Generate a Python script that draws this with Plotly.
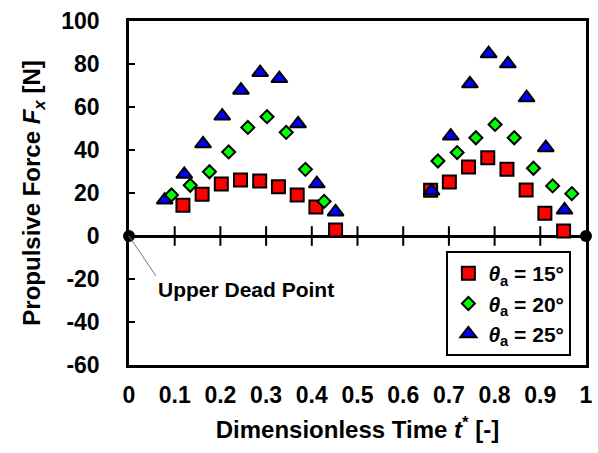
import plotly.graph_objects as go

# Dimensionless time t* and propulsive force F_x [N] for each blade angle
t_15 = [0.118, 0.160, 0.202, 0.244, 0.286, 0.327, 0.368, 0.409, 0.452,
        0.660, 0.701, 0.743, 0.785, 0.827, 0.869, 0.910, 0.951]
f_15 = [14.3, 19.4, 24.2, 26.0, 25.6, 22.9, 19.1, 13.5, 2.8,
        21.3, 25.1, 32.1, 36.4, 31.0, 21.4, 10.6, 2.3]

t_20 = [0.093, 0.134, 0.176, 0.218, 0.260, 0.302, 0.344, 0.386, 0.427,
        0.676, 0.718, 0.759, 0.801, 0.843, 0.885, 0.927, 0.969]
f_20 = [19.1, 23.6, 29.9, 39.1, 50.5, 55.5, 48.2, 31.0, 16.1,
        34.9, 38.8, 45.7, 51.9, 45.7, 31.5, 23.3, 19.7]

t_25 = [0.078, 0.121, 0.162, 0.204, 0.245, 0.287, 0.329, 0.370, 0.411, 0.452,
        0.662, 0.704, 0.746, 0.787, 0.829, 0.870, 0.912, 0.953]
f_25 = [16.7, 28.7, 42.9, 55.8, 67.8, 76.0, 73.2, 52.2, 24.3, 11.2,
        20.9, 46.5, 70.8, 84.8, 80.1, 64.3, 41.1, 12.1]

x_ticks = [0, 0.1, 0.2, 0.3, 0.4, 0.5, 0.6, 0.7, 0.8, 0.9, 1]
x_ticktext = ["0", "0.1", "0.2", "0.3", "0.4", "0.5", "0.6", "0.7", "0.8", "0.9", "1"]
y_ticks = [-60, -40, -20, 0, 20, 40, 60, 80, 100]
y_ticktext = ["-60", "-40", "-20", "0", "20", "40", "60", "80", "100"]

dead_points_t = [0, 1]
dead_points_f = [0, 0]

FONT = dict(family="Liberation Sans, Arial, sans-serif", color="black", weight="bold")
edge = dict(color="black", width=2)

fig = go.Figure()

# tick marks crossing the zero line
fig.add_trace(go.Scatter(
    x=x_ticks[1:-1], y=[0] * (len(x_ticks) - 2), mode="markers",
    marker=dict(symbol="line-ns", size=14, line=dict(color="black", width=2)),
    showlegend=False, hoverinfo="skip"))

fig.add_trace(go.Scatter(
    x=t_15, y=f_15, mode="markers", name="<i>θ</i><sub>a</sub> = 15°", legendrank=1,
    marker=dict(symbol="square", size=13, color="#ff0000", line=edge),
    cliponaxis=False))
fig.add_trace(go.Scatter(
    x=t_25, y=f_25, mode="markers", name="<i>θ</i><sub>a</sub> = 25°", legendrank=3,
    marker=dict(symbol="triangle-up", size=14, color="#0000ff", line=edge),
    cliponaxis=False))
fig.add_trace(go.Scatter(
    x=t_20, y=f_20, mode="markers", name="<i>θ</i><sub>a</sub> = 20°", legendrank=2,
    marker=dict(symbol="diamond", size=10, color="#00ff00", line=edge),
    cliponaxis=False))

# dead points at both ends of the cycle
fig.add_trace(go.Scatter(
    x=dead_points_t, y=dead_points_f, mode="markers",
    marker=dict(symbol="circle", size=12, color="black"),
    showlegend=False, hoverinfo="skip", cliponaxis=False))

fig.add_annotation(
    x=0, y=0, xref="x", yref="y", text="Upper Dead Point",
    showarrow=True, arrowhead=0, arrowwidth=1, arrowcolor="#777777",
    ax=27, ay=40, xanchor="left", yanchor="top",
    font=dict(size=21, **FONT))

fig.update_layout(
    width=598, height=453,
    margin=dict(l=129, r=5, t=21, b=88),
    paper_bgcolor="white", plot_bgcolor="white",
    font=dict(size=21, **FONT),
    legend=dict(
        x=0.968, y=0.026, xanchor="right", yanchor="bottom",
        bordercolor="black", borderwidth=2, bgcolor="white", itemwidth=30,
        font=dict(size=21, **FONT), tracegroupgap=0),
    xaxis=dict(
        range=[0, 1], tickvals=x_ticks, ticktext=x_ticktext, ticks="",
        showline=True, linecolor="black", linewidth=2.5, mirror=True,
        showgrid=False, zeroline=False, ticklabelstandoff=8,
        tickfont=dict(size=23, **FONT),
        title=dict(text="Dimensionless Time <i>t</i><sup>*</sup> [-]",
                   font=dict(size=24, **FONT), standoff=14)),
    yaxis=dict(
        range=[-60, 100], tickvals=y_ticks, ticktext=y_ticktext,
        ticks="inside", ticklen=6, tickwidth=2, tickcolor="black",
        showline=True, linecolor="black", linewidth=2.5, mirror=True,
        showgrid=False, zeroline=True, zerolinecolor="black", zerolinewidth=2.5,
        ticklabelstandoff=22,
        tickfont=dict(size=23, **FONT),
        title=dict(text="Propulsive Force <i>F<sub>x</sub></i> [N]",
                   font=dict(size=24, **FONT), standoff=14)),
)

fig.write_html("out.html")
